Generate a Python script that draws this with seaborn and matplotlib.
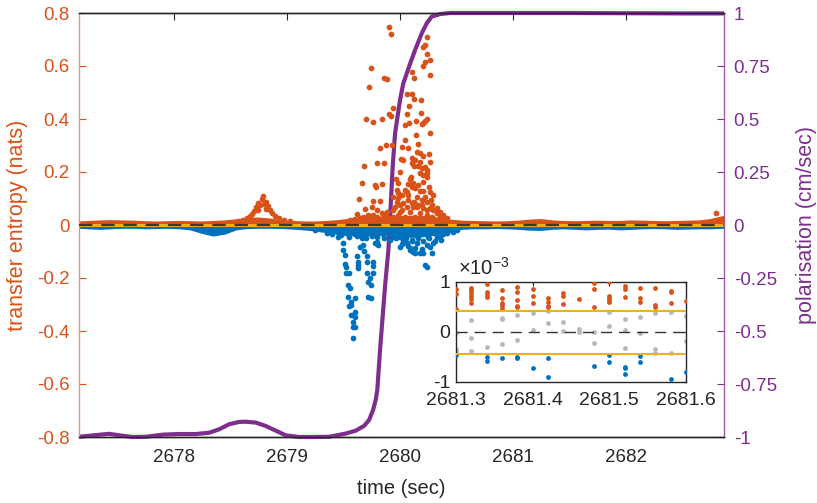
import numpy as np
import pandas as pd
import matplotlib
matplotlib.use("Agg")
import matplotlib.pyplot as plt
import seaborn as sns

# ---------------- data ----------------
# polarisation (cm/sec), right axis
pol_t = [2677.159, 2677.307, 2677.425, 2677.542, 2677.631, 2677.750, 2677.897, 2678.044, 2678.192,
         2678.310, 2678.398, 2678.487, 2678.575, 2678.634, 2678.723, 2678.811, 2678.900, 2678.988,
         2679.106, 2679.224, 2679.372, 2679.519, 2679.608, 2679.681, 2679.726, 2679.761, 2679.785,
         2679.799, 2679.823, 2679.867, 2679.897, 2679.920, 2679.935, 2679.956, 2680.000, 2680.029,
         2680.080, 2680.133, 2680.192, 2680.236, 2680.280, 2680.354, 2680.442, 2681.0, 2681.5,
         2682.0, 2682.5, 2682.867]
pol_v = [-0.999, -0.991, -0.985, -0.994, -1.0, -0.999, -0.989, -0.986, -0.986,
         -0.980, -0.964, -0.940, -0.929, -0.928, -0.932, -0.948, -0.970, -0.992,
         -1.0, -1.0, -0.999, -0.984, -0.970, -0.948, -0.920, -0.873, -0.825,
         -0.778, -0.590, -0.291, -0.118, 0.118, 0.275, 0.432, 0.590, 0.668,
         0.747, 0.825, 0.904, 0.951, 0.983, 0.995, 1.0, 1.0, 1.0,
         0.999, 0.998, 0.998]

# dense near-zero band of transfer entropy (envelope of the points)
band_t = [2677.16, 2677.25, 2677.35, 2677.45, 2677.55, 2677.65, 2677.75, 2677.85, 2677.95, 2678.05,
          2678.15, 2678.25, 2678.35, 2678.45, 2678.55, 2678.65, 2678.75, 2678.85, 2678.95, 2679.05,
          2679.15, 2679.25, 2679.35, 2679.45, 2679.55, 2679.65, 2679.75, 2679.85, 2679.95, 2680.05,
          2680.15, 2680.25, 2680.35, 2680.45, 2680.55, 2680.65, 2680.75, 2680.85, 2680.95, 2681.05,
          2681.15, 2681.25, 2681.35, 2681.45, 2681.55, 2681.65, 2681.75, 2681.85, 2681.95, 2682.05,
          2682.15, 2682.25, 2682.35, 2682.45, 2682.55, 2682.65, 2682.75, 2682.867]
band_hi = [0.005, 0.007, 0.009, 0.010, 0.009, 0.008, 0.006, 0.005, 0.006, 0.007,
           0.006, 0.005, 0.007, 0.009, 0.013, 0.018, 0.020, 0.016, 0.010, 0.007,
           0.005, 0.005, 0.007, 0.010, 0.015, 0.020, 0.022, 0.024, 0.026, 0.026,
           0.026, 0.026, 0.018, 0.012, 0.008, 0.007, 0.006, 0.005, 0.006, 0.008,
           0.012, 0.014, 0.009, 0.007, 0.006, 0.007, 0.008, 0.007, 0.007, 0.009,
           0.008, 0.007, 0.006, 0.007, 0.008, 0.009, 0.014, 0.026]
band_lo = [-0.006, -0.008, -0.010, -0.008, -0.006, -0.006, -0.008, -0.007, -0.006, -0.008,
           -0.012, -0.025, -0.035, -0.028, -0.012, -0.007, -0.006, -0.006, -0.007, -0.009,
           -0.012, -0.016, -0.022, -0.028, -0.034, -0.035, -0.035, -0.032, -0.036, -0.040,
           -0.040, -0.036, -0.028, -0.016, -0.010, -0.008, -0.008, -0.007, -0.008, -0.010,
           -0.013, -0.014, -0.010, -0.008, -0.010, -0.012, -0.010, -0.009, -0.012, -0.010,
           -0.008, -0.007, -0.008, -0.010, -0.009, -0.008, -0.008, -0.006]

# positive transfer entropy points (orange)
pos_t = [2679.902, 2679.92, 2680.243, 2680.222, 2680.207, 2680.243, 2680.264, 2680.222, 2680.207, 2679.74,
         2680.104, 2680.264, 2679.86, 2679.884, 2680.124, 2679.722, 2680.062, 2680.104, 2680.124, 2680.184,
         2680.083, 2679.94, 2680.184, 2680.062, 2679.902, 2679.923, 2680.243, 2680.222, 2680.207, 2680.198,
         2679.70, 2679.76, 2679.843, 2680.142, 2680.083, 2680.044,
         2680.264, 2680.142, 2680.042, 2680.163, 2679.822, 2679.88, 2679.93, 2680.02, 2680.148, 2680.178,
         2680.202, 2680.252, 2680.267, 2680.009, 2680.03, 2679.798, 2679.86, 2679.68, 2680.104, 2680.124,
         2680.163, 2680.193, 2680.178, 2680.207, 2680.237, 2680.243, 2680.003, 2679.964, 2679.98, 2680.098,
         2680.086, 2680.113, 2680.074, 2679.66, 2679.78, 2679.843, 2679.787, 2680.178, 2680.207, 2680.252,
         2680.267, 2680.296, 2680.276, 2679.97, 2679.985, 2680.06, 2680.074, 2680.148, 2680.124, 2679.638,
         2679.763, 2679.822, 2679.748, 2679.793, 2679.689, 2679.615, 2679.718, 2679.60,
         2679.94, 2679.97, 2679.956, 2680.0, 2680.015, 2680.06, 2680.089, 2680.118, 2680.163, 2680.193,
         2680.222, 2680.237, 2680.207, 2680.267, 2680.296, 2680.326, 2680.356, 2680.178, 2680.133, 2680.044,
         2679.985, 2679.94, 2679.911, 2679.97, 2680.06, 2680.148, 2680.237, 2680.311, 2680.385, 2680.415,
         2679.556, 2679.644, 2679.704, 2679.793, 2679.852, 2679.88,
         2680.074, 2680.104, 2680.133, 2680.177, 2680.221, 2680.242, 2680.206, 2680.162, 2680.133, 2680.104,
         2680.044, 2680.015, 2679.985, 2680.074, 2680.104, 2680.148, 2680.192, 2680.236, 2680.28, 2680.325,
         2680.354, 2680.383, 2680.029, 2680.0, 2679.941, 2679.882, 2679.838, 2679.764, 2679.675, 2679.587,
         2679.528, 2680.236, 2680.28, 2680.177, 2680.104,
         2678.788, 2678.78, 2678.743, 2678.726, 2678.708, 2678.69, 2678.673, 2678.646, 2678.611, 2678.566,
         2678.814, 2678.832, 2678.85, 2678.867, 2678.894, 2678.929, 2678.973, 2679.027,
         2678.761, 2678.796, 2678.743, 2678.814, 2682.794]
pos_v = [0.748, 0.72, 0.708, 0.679, 0.671, 0.644, 0.623, 0.614, 0.601, 0.591,
         0.576, 0.566, 0.553, 0.551, 0.555, 0.522, 0.494, 0.493, 0.475, 0.472,
         0.45, 0.442, 0.421, 0.418, 0.418, 0.411, 0.401, 0.392, 0.384, 0.382,
         0.401, 0.39, 0.399, 0.392, 0.384, 0.378,
         0.348, 0.34, 0.321, 0.306, 0.292, 0.302, 0.303, 0.293, 0.274, 0.271,
         0.26, 0.267, 0.239, 0.248, 0.245, 0.235, 0.233, 0.224, 0.233, 0.223,
         0.223, 0.214, 0.195, 0.189, 0.197, 0.182, 0.201, 0.172, 0.157, 0.18,
         0.172, 0.157, 0.155, 0.157, 0.151, 0.155, 0.145, 0.128, 0.128, 0.145,
         0.126, 0.113, 0.094, 0.132, 0.122, 0.126, 0.113, 0.107, 0.088, 0.097,
         0.091, 0.091, 0.067, 0.057, 0.059, 0.042, 0.038, 0.023,
         0.107, 0.088, 0.069, 0.075, 0.057, 0.067, 0.050, 0.067, 0.075, 0.094,
         0.107, 0.088, 0.063, 0.063, 0.057, 0.044, 0.031, 0.044, 0.031, 0.031,
         0.038, 0.031, 0.019, 0.019, 0.019, 0.019, 0.019, 0.019, 0.019, 0.025,
         0.019, 0.025, 0.031, 0.031, 0.025, 0.038,
         0.289, 0.252, 0.245, 0.239, 0.220, 0.208, 0.163, 0.151, 0.138, 0.145,
         0.132, 0.113, 0.101, 0.094, 0.082, 0.069, 0.075, 0.057, 0.075, 0.063,
         0.050, 0.038, 0.082, 0.050, 0.057, 0.050, 0.044, 0.038, 0.031, 0.019,
         0.013, 0.038, 0.031, 0.025, 0.025,
         0.109, 0.098, 0.083, 0.068, 0.053, 0.042, 0.034, 0.026, 0.019, 0.015,
         0.087, 0.072, 0.057, 0.045, 0.034, 0.026, 0.019, 0.015,
         0.075, 0.079, 0.057, 0.060, 0.046]

# negative transfer entropy points (blue)
neg_t = [2679.482, 2679.496, 2679.496, 2679.511, 2679.66, 2679.674, 2679.644, 2679.68, 2679.704, 2679.704,
         2679.763, 2679.757, 2679.757, 2679.615, 2679.624, 2679.63, 2679.624, 2679.517, 2679.52, 2679.526,
         2679.549, 2679.709, 2679.733, 2679.718, 2679.74, 2679.54, 2679.556, 2679.718, 2679.74, 2679.54,
         2679.60, 2679.562, 2679.57, 2679.549, 2679.60, 2679.564, 2679.60, 2679.585, 2679.585, 2679.60,
         2679.58, 2679.778, 2679.807, 2679.793, 2680.222, 2680.237, 2680.207, 2680.28, 2680.296, 2680.267,
         2680.178, 2680.089, 2680.118, 2680.148, 2680.03, 2680.06, 2680.0, 2680.089, 2680.133, 2680.03,
         2680.104, 2679.911, 2679.94,
         2679.45, 2679.52, 2679.6, 2679.68, 2679.75, 2679.85, 2679.95, 2680.05, 2680.15, 2680.25,
         2680.3, 2680.35, 2680.4, 2680.45, 2679.3, 2679.35,
         2679.93, 2679.96, 2680.0, 2680.02, 2680.05, 2680.07, 2680.11, 2680.13, 2680.16, 2680.19,
         2680.2, 2680.24, 2680.26, 2680.31, 2680.33, 2680.36, 2680.38, 2680.42, 2680.47, 2680.5,
         2679.35, 2679.4, 2679.45, 2679.55, 2679.62, 2679.7, 2679.8, 2679.86, 2679.25]
neg_v = [-0.038, -0.069, -0.094, -0.113, -0.05, -0.075, -0.082, -0.097, -0.117, -0.138,
         -0.138, -0.155, -0.18, -0.117, -0.138, -0.151, -0.163, -0.147, -0.157, -0.182,
         -0.18, -0.182, -0.201, -0.214, -0.226, -0.226, -0.239, -0.271, -0.277, -0.273,
         -0.277, -0.289, -0.302, -0.306, -0.327, -0.34, -0.346, -0.365, -0.384, -0.384,
         -0.428, -0.069, -0.075, -0.063, -0.151, -0.157, -0.107, -0.107, -0.069, -0.082,
         -0.107, -0.088, -0.101, -0.069, -0.057, -0.069, -0.082, -0.094, -0.107, -0.044,
         -0.057, -0.057, -0.044,
         -0.025, -0.03, -0.035, -0.03, -0.04, -0.035, -0.03, -0.035, -0.04, -0.045,
         -0.03, -0.04, -0.025, -0.02, -0.015, -0.02,
         -0.03, -0.05, -0.045, -0.07, -0.05, -0.08, -0.06, -0.085, -0.05, -0.09,
         -0.06, -0.075, -0.05, -0.06, -0.045, -0.055, -0.035, -0.03, -0.025, -0.018,
         -0.03, -0.035, -0.045, -0.045, -0.04, -0.05, -0.045, -0.05, -0.02]

te_threshold = 0.00043

# inset (values in units of 1e-3)
ins_pos_t = [2681.30, 2681.30, 2681.30, 2681.32, 2681.32, 2681.32, 2681.32, 2681.32, 2681.32,
             2681.34, 2681.34, 2681.34, 2681.34, 2681.36, 2681.36, 2681.36, 2681.36, 2681.36,
             2681.38, 2681.38, 2681.38, 2681.38, 2681.38, 2681.40, 2681.40, 2681.40,
             2681.42, 2681.42, 2681.42, 2681.42, 2681.44, 2681.44, 2681.44, 2681.46,
             2681.48, 2681.48, 2681.48, 2681.50, 2681.50, 2681.50, 2681.50, 2681.50,
             2681.52, 2681.52, 2681.52, 2681.54, 2681.54, 2681.54, 2681.56, 2681.56, 2681.56,
             2681.58, 2681.58, 2681.58, 2681.60]
ins_pos_v = [0.858, 0.764, 0.459, 0.872, 0.831, 0.777, 0.723, 0.655, 0.574,
             0.959, 0.791, 0.743, 0.696, 0.838, 0.676, 0.588, 0.541, 0.486,
             0.899, 0.791, 0.642, 0.52, 0.493, 0.858, 0.73, 0.574,
             0.689, 0.608, 0.52, 0.493, 0.777, 0.73, 0.554, 0.655,
             0.98, 0.858, 0.507, 1.0, 0.73, 0.689, 0.642, 0.608,
             0.912, 0.858, 0.709, 0.878, 0.676, 0.608, 0.878, 0.541, 0.493,
             0.811, 0.791, 0.588, 0.628]
ins_mid_t = [2681.30, 2681.30, 2681.30, 2681.32, 2681.32, 2681.32, 2681.34, 2681.36, 2681.36, 2681.36,
             2681.38, 2681.38, 2681.40, 2681.40, 2681.42, 2681.42, 2681.44, 2681.44, 2681.46, 2681.46,
             2681.48, 2681.48, 2681.50, 2681.50, 2681.52, 2681.52, 2681.52, 2681.54, 2681.54,
             2681.56, 2681.56, 2681.56, 2681.58, 2681.58, 2681.60, 2681.60]
ins_mid_v = [-0.02, -0.338, -0.385, 0.236, -0.115, -0.372, -0.29, 0.284, 0.257, -0.236,
             0.338, -0.169, 0.385, 0.034, 0.419, 0.182, 0.203, 0.027, 0.068, 0.0,
             0.0, -0.216, 0.392, 0.122, 0.257, 0.034, -0.324, 0.304, -0.02,
             0.372, -0.338, -0.42, 0.405, -0.42, 0.324, -0.189]
ins_neg_t = [2681.30, 2681.34, 2681.34, 2681.36, 2681.38, 2681.38, 2681.40, 2681.42, 2681.42,
             2681.48, 2681.50, 2681.50, 2681.52, 2681.52, 2681.52, 2681.54, 2681.54, 2681.58, 2681.60]
ins_neg_v = [-0.453, -0.507, -0.574, -0.52, -0.507, -0.52, -0.723, -0.527, -0.899,
             -0.689, -0.453, -0.608, -0.709, -0.723, -0.845, -0.473, -0.595, -0.946, -0.791]

# ---------------- style ----------------
ORANGE = "#D95319"
BLUE = "#0072BD"
YELLOW = "#EDB120"
PURPLE = "#7E2F8E"
GRAY = "#B8B8B8"
DARK = "#262626"

sns.set_theme(style="white")
plt.rcParams["font.family"] = ["Liberation Sans", "DejaVu Sans"]
plt.rcParams["mathtext.fontset"] = "custom"
plt.rcParams["mathtext.rm"] = "Liberation Sans"

fig = plt.figure(figsize=(8.17, 5.03), dpi=100)
ax = fig.add_axes([79 / 817, 1 - 437 / 503, (724 - 79) / 817, (437 - 13) / 503])
ax2 = ax.twinx()
ax.set_zorder(ax2.get_zorder() + 1)
ax.patch.set_visible(False)

XMIN, XMAX = 2677.159, 2682.867

# band
ax.fill_between(band_t, band_lo, 0, color=BLUE, lw=0, zorder=1)
sns.lineplot(x=band_t, y=band_lo, ax=ax, color=BLUE, lw=3.2, zorder=1,
             solid_capstyle="round", solid_joinstyle="round")
ax.fill_between(band_t, 0, band_hi, color=ORANGE, lw=0, zorder=2)
sns.lineplot(x=band_t, y=band_hi, ax=ax, color=ORANGE, lw=3.2, zorder=2,
             solid_capstyle="round", solid_joinstyle="round")

neg_df = pd.DataFrame({"t": neg_t, "v": neg_v})
pos_df = pd.DataFrame({"t": pos_t, "v": pos_v})
sns.scatterplot(data=neg_df, x="t", y="v", ax=ax, color=BLUE, s=17, linewidth=0, zorder=3)
sns.scatterplot(data=pos_df, x="t", y="v", ax=ax, color=ORANGE, s=17, linewidth=0, zorder=4)

ax.axhline(te_threshold, color=YELLOW, lw=2.0, zorder=5)
ax.axhline(-te_threshold, color=YELLOW, lw=2.0, zorder=5)
ax.axhline(0, color="#3a3a2a", lw=1.6, ls=(0, (6, 4)), zorder=6)

# polarisation line (right-axis scale) drawn on top
pol_df = pd.DataFrame({"t": pol_t, "p": pol_v})
ax_top = fig.add_axes(ax.get_position(), sharex=ax)
ax_top.patch.set_visible(False)
sns.lineplot(data=pol_df, x="t", y="p", ax=ax_top, color=PURPLE, lw=3.0,
             solid_joinstyle="round", solid_capstyle="butt", clip_on=False)
ax_top.set_ylim(-1, 1)
ax_top.axis("off")

ax.set_xlim(XMIN, XMAX)
ax.set_ylim(-0.8, 0.8)
ax2.set_ylim(-1, 1)

ax.set_xticks([2678, 2679, 2680, 2681, 2682])
ax.set_xticklabels(["2678", "2679", "2680", "2681", "2682"])
ax.set_yticks([-0.8, -0.6, -0.4, -0.2, 0, 0.2, 0.4, 0.6, 0.8])
ax.set_yticklabels(["-0.8", "-0.6", "-0.4", "-0.2", "0", "0.2", "0.4", "0.6", "0.8"])
ax2.set_yticks([-1, -0.75, -0.5, -0.25, 0, 0.25, 0.5, 0.75, 1])
ax2.set_yticklabels(["-1", "-0.75", "-0.5", "-0.25", "0", "0.25", "0.5", "0.75", "1"])

FS = 13.5
ax.tick_params(axis="x", direction="in", length=5, width=0.8, colors=DARK, labelsize=FS,
               top=True, pad=9)
ax.tick_params(axis="y", direction="in", length=5, width=0.8, colors=ORANGE, labelsize=FS, pad=7)
ax2.tick_params(axis="y", direction="in", length=5, width=0.8, colors=PURPLE, labelsize=FS, pad=7)
ax2.tick_params(axis="x", bottom=False, top=False, labelbottom=False)

for a in (ax, ax2):
    for s in a.spines.values():
        s.set_linewidth(1.0)
ax.spines["left"].set_color("#E8967A")
ax.spines["right"].set_visible(False)
ax.spines["top"].set_color(DARK)
ax.spines["bottom"].set_color(DARK)
ax2.spines["right"].set_color("#A25AAD")
ax2.spines["left"].set_visible(False)
ax2.spines["top"].set_color(DARK)
ax2.spines["bottom"].set_color(DARK)

ax.set_xlabel("time (sec)", fontsize=14.5, color=DARK, labelpad=9)
ax.set_ylabel("transfer entropy (nats)", fontsize=15.5, color=ORANGE, labelpad=6)
ax2.set_ylabel("polarisation (cm/sec)", fontsize=15.5, color=PURPLE, labelpad=14)

# ---------------- inset ----------------
axi = fig.add_axes([456 / 817, 1 - 382 / 503, 230 / 817, 100 / 503])
axi.set_zorder(10)
axi.set_facecolor("white")
sns.scatterplot(x=ins_mid_t, y=ins_mid_v, ax=axi, color=GRAY, s=12, linewidth=0, zorder=2)
sns.scatterplot(x=ins_pos_t, y=ins_pos_v, ax=axi, color=ORANGE, s=12, linewidth=0, zorder=3)
sns.scatterplot(x=ins_neg_t, y=ins_neg_v, ax=axi, color=BLUE, s=12, linewidth=0, zorder=3)
axi.axhline(te_threshold * 1000, color=YELLOW, lw=1.5, zorder=4)
axi.axhline(-te_threshold * 1000, color=YELLOW, lw=1.5, zorder=4)
axi.axhline(0, color="#333333", lw=1.0, ls=(0, (8, 5)), zorder=4)
axi.set_xlim(2681.3, 2681.6)
axi.set_ylim(-1, 1)
axi.set_xticks([2681.3, 2681.4, 2681.5, 2681.6])
axi.set_xticklabels(["2681.3", "2681.4", "2681.5", "2681.6"])
axi.set_yticks([-1, 0, 1])
axi.set_yticklabels(["-1", "0", "1"])
axi.tick_params(direction="in", length=3, width=0.8, colors=DARK, labelsize=14, pad=4,
                top=True, right=True)
axi.tick_params(axis="x", pad=7)
for s in axi.spines.values():
    s.set_color(DARK)
    s.set_linewidth(1.0)
axi.text(0.01, 1.03, r"$\mathregular{\times10^{-3}}$", transform=axi.transAxes,
         ha="left", va="bottom", fontsize=14.5, color=DARK)

fig.savefig("out.png", dpi=100)
